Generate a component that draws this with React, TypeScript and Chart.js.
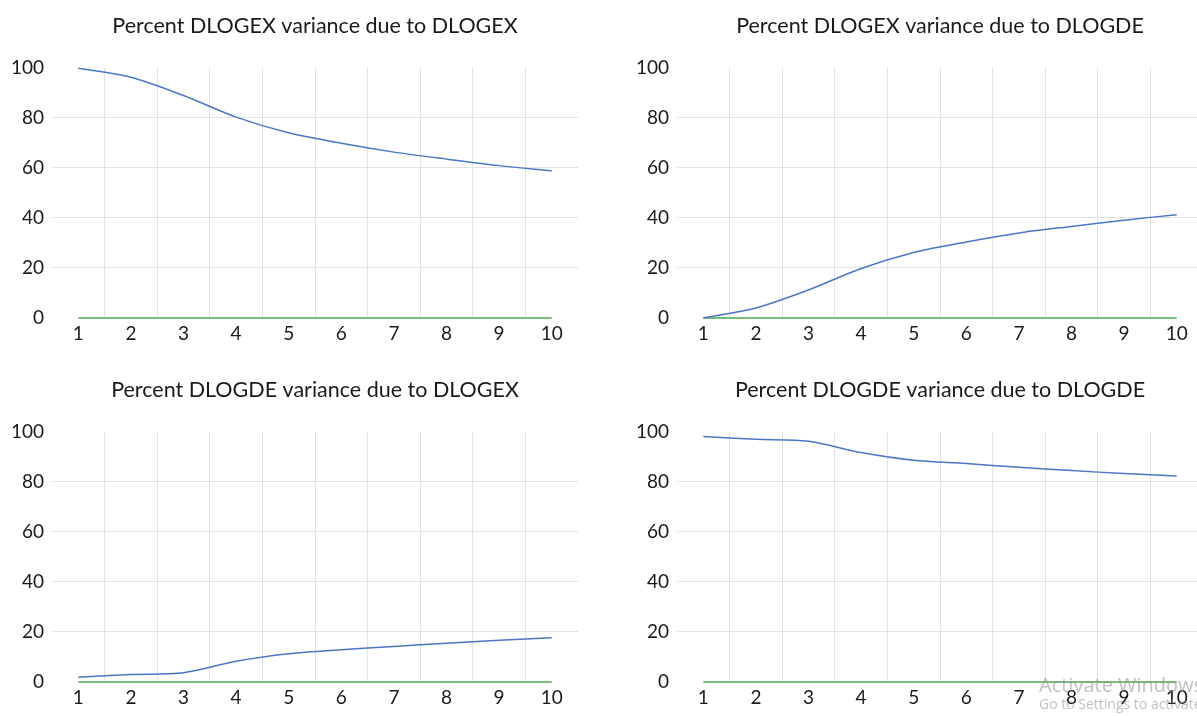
import React, { useEffect, useRef } from "react";
import { Chart, registerables } from "chart.js";

Chart.register(...registerables);

const periods = ["1", "2", "3", "4", "5", "6", "7", "8", "9", "10"];
const yTicks = [0, 20, 40, 60, 80, 100];

const exDueEx = [99.8, 96.2, 88.9, 80.3, 74.0, 69.8, 66.3, 63.5, 60.9, 58.8];
const exDueDe = [0, 4.0, 11.2, 19.8, 26.2, 30.4, 34.0, 36.6, 39.1, 41.3];
const deDueEx = [1.9, 3.0, 3.7, 8.3, 11.3, 12.9, 14.2, 15.5, 16.7, 17.7];
const deDueDe = [98.1, 97.0, 96.2, 91.7, 88.6, 87.3, 85.8, 84.5, 83.3, 82.3];
const zeroLine = [0, 0, 0, 0, 0, 0, 0, 0, 0, 0];

const titles = [
  "Percent DLOGEX variance due to DLOGEX",
  "Percent DLOGEX variance due to DLOGDE",
  "Percent DLOGDE variance due to DLOGEX",
  "Percent DLOGDE variance due to DLOGDE",
];

const FONT = "Lato, 'Open Sans', sans-serif";
const GRID = "#e2e2e2";

function Panel(props: { title: string; values: number[]; left: number; top: number }) {
  const ref = useRef<HTMLCanvasElement>(null);
  useEffect(() => {
    if (!ref.current) return;
    const chart = new Chart(ref.current, {
      type: "line",
      data: {
        labels: periods,
        datasets: [
          {
            data: props.values,
            borderColor: "#4a76c6",
            borderWidth: 1.5,
            pointRadius: 0,
            tension: 0.3,
            clip: false,
          },
          {
            data: zeroLine,
            borderColor: "#4caa4c",
            borderWidth: 1.5,
            pointRadius: 0,
            tension: 0,
            clip: false,
          },
        ],
      },
      options: {
        animation: false,
        responsive: false,
        maintainAspectRatio: false,
        layout: { padding: 0 },
        plugins: {
          legend: { display: false },
          tooltip: { enabled: false },
          title: {
            display: true,
            text: props.title,
            fullSize: false,
            color: "#1a1a1a",
            font: { family: FONT, size: 21.5, weight: "normal" },
            padding: { top: 13, bottom: 29 },
          },
        },
        scales: {
          x: {
            type: "category",
            offset: true,
            border: { display: false },
            grid: {
              offset: true,
              drawTicks: false,
              lineWidth: 1,
              color: (ctx: any) =>
                ctx.type !== "tick" || ctx.index === 0 ? "rgba(0,0,0,0)" : GRID,
            },
            ticks: {
              color: "#1a1a1a",
              padding: 4,
              maxRotation: 0,
              font: { family: FONT, size: 19 },
            },
            afterFit: (s: any) => {
              s.height = 30;
            },
          },
          y: {
            min: 0,
            max: 100,
            border: { display: false },
            grid: {
              drawTicks: false,
              lineWidth: 1,
              color: (ctx: any) =>
                ctx.tick && (ctx.tick.value === 0 || ctx.tick.value === 100)
                  ? "rgba(0,0,0,0)"
                  : GRID,
            },
            afterBuildTicks: (s: any) => {
              s.ticks = yTicks.map((v) => ({ value: v }));
            },
            ticks: {
              color: "#1a1a1a",
              padding: 8,
              font: { family: FONT, size: 19 },
            },
            afterFit: (s: any) => {
              s.width = 52;
            },
          },
        },
      },
    });
    return () => chart.destroy();
  }, []);
  return (
    <canvas
      ref={ref}
      width={578}
      height={348}
      style={{ position: "absolute", left: props.left, top: props.top, width: 578, height: 348 }}
    />
  );
}

export default function App() {
  return (
    <div
      style={{
        position: "fixed",
        left: 0,
        top: 0,
        width: 1197,
        height: 716,
        overflow: "hidden",
        background: "#ffffff",
      }}
    >
      <Panel title={titles[0]} values={exDueEx} left={0} top={0} />
      <Panel title={titles[1]} values={exDueDe} left={625} top={0} />
      <Panel title={titles[2]} values={deDueEx} left={0} top={364} />
      <Panel title={titles[3]} values={deDueDe} left={625} top={364} />
      <div
        style={{
          position: "absolute",
          left: 1039,
          top: 674,
          fontFamily: "'Open Sans', 'Noto Sans', sans-serif",
          color: "rgba(140,140,140,0.55)",
          whiteSpace: "nowrap",
          lineHeight: 1.1,
        }}
      >
        <div style={{ fontSize: 20 }}>Activate Windows</div>
        <div style={{ fontSize: 14 }}>Go to Settings to activate Windows.</div>
      </div>
    </div>
  );
}
